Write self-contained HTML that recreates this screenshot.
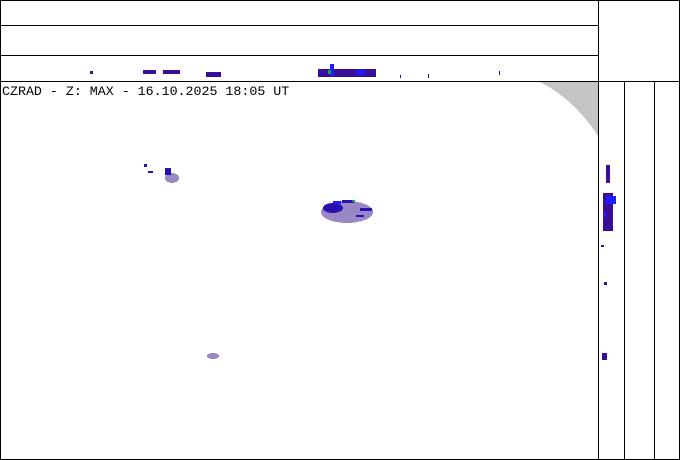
<!DOCTYPE html>
<html><head><style>
body{margin:0;background:#fff;width:680px;height:460px;overflow:hidden}
svg{display:block}
</style></head><body>
<svg width="680" height="460" viewBox="0 0 680 460" xmlns="http://www.w3.org/2000/svg" shape-rendering="crispEdges">
<rect width="680" height="460" fill="#fff"/>
<path d="M540 82 L598 82 L598 136 Q575 100 540 82Z" fill="#c4c4c4"/>
<g stroke="#000" stroke-width="1" fill="none">
<rect x="0.5" y="0.5" width="679" height="459"/>
<line x1="0" y1="25.5" x2="598" y2="25.5"/>
<line x1="0" y1="55.5" x2="598" y2="55.5"/>
<line x1="0" y1="81.5" x2="680" y2="81.5"/>
<line x1="598.5" y1="0" x2="598.5" y2="460"/>
<line x1="624.5" y1="81" x2="624.5" y2="460"/>
<line x1="654.5" y1="81" x2="654.5" y2="460"/>
</g>
<text x="2" y="95" font-family="Liberation Mono, monospace" font-size="13.3" fill="#000">CZRAD - Z: MAX - 16.10.2025 18:05 UT</text>
<g fill="#3a0e9a">
<rect x="90" y="71" width="3" height="3"/>
<rect x="143" y="70" width="13" height="4"/>
<rect x="163" y="70" width="17" height="4"/>
<rect x="206" y="72" width="15" height="5"/>
<rect x="318" y="69" width="58" height="8"/>
<rect x="400" y="75" width="1" height="3"/>
<rect x="428" y="74" width="1" height="4"/>
<rect x="499" y="71" width="1" height="4"/>
</g>
<rect x="330" y="64" width="4" height="12" fill="#1c1cff"/>
<rect x="328" y="70" width="3" height="4" fill="#13a34a"/>
<rect x="357" y="70" width="8" height="5" fill="#1c1cff"/>
<g fill="#3a0e9a">
<rect x="606" y="165" width="4" height="18"/>
<rect x="603" y="193" width="10" height="38"/>
<rect x="601" y="245" width="3" height="2"/>
<rect x="604" y="282" width="3" height="3"/>
<rect x="602" y="353" width="5" height="7"/>
</g>
<rect x="606" y="196" width="10" height="8" fill="#1c1cff"/>
<rect x="603" y="212" width="3" height="5" fill="#1c1cff"/>
<g fill="#9a88c4">
<ellipse cx="347" cy="212" rx="26" ry="11"/>
<ellipse cx="172" cy="178" rx="7" ry="5"/>
<ellipse cx="213" cy="356" rx="6" ry="3"/>
</g>
<g fill="#2a10b0">
<ellipse cx="333" cy="208" rx="10" ry="5"/>
<rect x="342" y="200" width="12" height="3"/>
<rect x="360" y="208" width="12" height="3"/>
<rect x="356" y="215" width="8" height="2"/>
<rect x="165" y="168" width="6" height="7"/>
<rect x="144" y="164" width="3" height="3"/>
<rect x="148" y="171" width="5" height="2"/>
</g>
<rect x="333" y="201" width="8" height="3" fill="#1c1cff"/>
<rect x="352" y="200" width="3" height="2" fill="#13a34a"/>
</svg>
</body></html>
